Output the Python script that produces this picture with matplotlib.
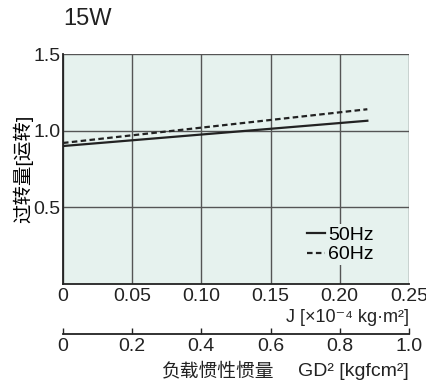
import matplotlib.pyplot as plt

plt.rcParams['font.family'] = ['Liberation Sans', 'Noto Sans CJK SC', 'DejaVu Sans']

# overload curves vs load inertia
j_vals = [0, 0.22]
hz50 = [0.90, 1.065]
hz60 = [0.92, 1.14]

x_ticks = [0, 0.05, 0.10, 0.15, 0.20, 0.25]
x_labels = ['0', '0.05', '0.10', '0.15', '0.20', '0.25']
y_ticks = [0.5, 1.0, 1.5]
gd_ticks = [0, 0.2, 0.4, 0.6, 0.8, 1.0]
gd_labels = ['0', '0.2', '0.4', '0.6', '0.8', '1.0']

fig = plt.figure(figsize=(4.27, 3.89), dpi=100)
ax = fig.add_axes([0.1475, 0.270, 0.810, 0.591])
ax.set_facecolor('#e6f2ee')

ax.plot(j_vals, hz50, color='#222222', lw=1.6, label='50Hz')
ax.plot(j_vals, hz60, color='#222222', lw=1.6, ls=(0, (2.5, 1.5)), label='60Hz')

ax.set_xlim(0, 0.25)
ax.set_ylim(0, 1.5)
ax.set_xticks(x_ticks)
ax.set_xticklabels(x_labels)
ax.set_yticks(y_ticks)
ax.set_yticklabels(['0.5', '1.0', '1.5'])
ax.tick_params(length=0, labelsize=14, colors='#222222')
ax.tick_params(axis='y', pad=2)
ax.tick_params(axis='x', pad=3)
ax.grid(True, color='#555555', lw=1.0)
ax.set_axisbelow(True)
for s in ['top', 'right']:
    ax.spines[s].set_visible(False)
for s in ['left', 'bottom']:
    ax.spines[s].set_color('#222222')
    ax.spines[s].set_linewidth(1.3)

ax.set_ylabel('过转量[运转]', fontsize=14, labelpad=0)
ax.text(1.0, -0.145, 'J [×10⁻⁴ kg·m²]', transform=ax.transAxes,
        ha='right', va='center', fontsize=13, color='#222222')

leg = ax.legend(loc='center left', bbox_to_anchor=(0.70, 0.17), fontsize=14,
                handlelength=0.9, handletextpad=0.2, labelspacing=0.1,
                frameon=True, borderpad=0.1, borderaxespad=0)
leg.get_frame().set_facecolor('#e6f2ee')
leg.get_frame().set_edgecolor('none')
leg.get_frame().set_alpha(1)

fig.text(0.206, 0.952, '15W', fontsize=17, ha='center', va='center', color='#222222')

# secondary scale in GD^2
ax2 = fig.add_axes([0.1475, 0.1414, 0.810, 0.001])
ax2.set_xlim(0, 1.0)
ax2.set_xticks(gd_ticks)
ax2.set_xticklabels(gd_labels)
ax2.set_yticks([])
ax2.patch.set_visible(False)
for s in ['top', 'right', 'left']:
    ax2.spines[s].set_visible(False)
ax2.spines['bottom'].set_color('#222222')
ax2.spines['bottom'].set_linewidth(1.3)
ax2.tick_params(axis='x', direction='in', length=4, width=1, labelsize=14,
                colors='#222222', pad=3)
fig.text(0.643, 0.046, '负载惯性惯量', ha='right', va='center',
         fontsize=13.5, color='#222222')
fig.text(0.958, 0.046, 'GD² [kgfcm²]', ha='right', va='center',
         fontsize=14, color='#222222')

fig.savefig('out.png', dpi=100)
